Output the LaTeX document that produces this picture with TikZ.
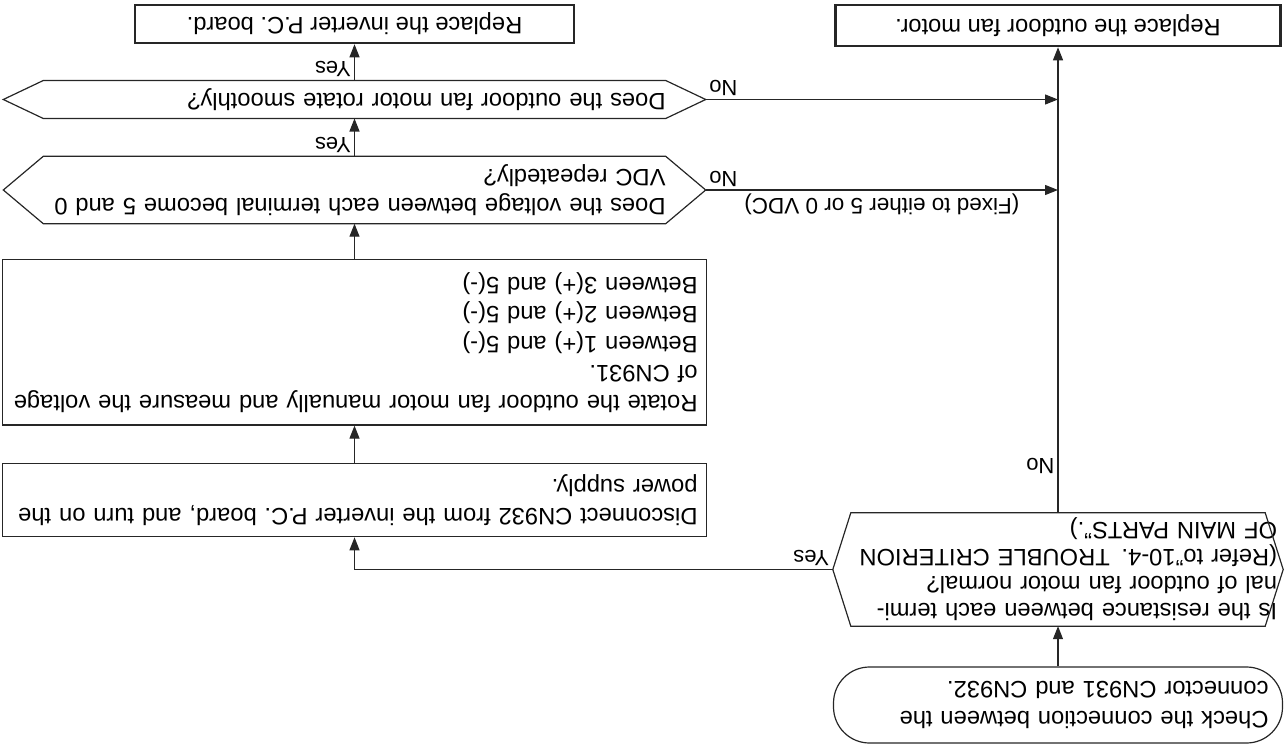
\documentclass[tikz,border=0pt]{standalone}
\usepackage{fontspec}
\setmainfont{Liberation Sans}
\usetikzlibrary{arrows.meta,positioning,calc}

\begin{document}
\begin{tikzpicture}[x=1pt,y=1pt,rotate=180,transform shape,
  font=\fontsize{23.7}{29.5}\selectfont,
  arr/.style={-{Triangle[length=13pt,width=10pt]},line width=1.2pt,draw=black!85},
  box/.style={draw=black!85,line width=1.2pt,text width=686pt,inner xsep=9pt,inner ysep=0pt,align=left},
  dec/.style={inner ysep=0pt,align=left},
  term/.style={draw=black!85,line width=1.2pt,rounded corners=36pt,inner xsep=14pt,inner ysep=0pt,align=left},
  endbox/.style={draw=black!85,line width=2.6pt,inner sep=0pt},
  lbl/.style={font=\fontsize{22}{26}\selectfont,inner sep=3pt}]
\useasboundingbox (0,0) rectangle (-1287,744);
% left column
\node[term,text width=421pt,minimum height=76pt] (start) at (-1058,705) {Check the connection between the\\connector CN931 and CN932.};
\node[dec,text width=438pt,inner xsep=6pt,minimum height=113pt,font=\fontsize{23.7}{27}\selectfont] (d1) at (-1058,569.5) {Is the resistance between each termi-\\nal of outdoor fan motor normal?\\(Refer to"10-4. TROUBLE CRITERION\\OF MAIN PARTS".)};
\node[endbox,minimum width=445pt,minimum height=41pt] (mot) at (-1058,25.5) {Replace the outdoor fan motor.};
% right column
\node[box,minimum height=73.4pt] (dis) at (-354.5,500) {Disconnect CN932 from the inverter P.C. board, and turn on the\\power supply.};
\node[box,minimum height=165.7pt] (rot) at (-354.5,342.2) {Rotate the outdoor fan motor manually and measure the voltage\\of CN931.\\Between 1(+) and 5(-)\\Between 2(+) and 5(-)\\Between 3(+) and 5(-)};
\node[dec,text width=622pt,inner xsep=40pt,minimum height=67pt] (d2) at (-354.5,190) {Does the voltage between each terminal become 5 and 0\\VDC repeatedly?};
\node[dec,text width=622pt,inner xsep=40pt,minimum height=37.6pt] (d3) at (-354.5,99.5) {Does the outdoor fan motor rotate smoothly?};
\node[endbox,minimum width=439pt,minimum height=38pt] (inv) at (-354.5,24) {Replace the inverter P.C. board.};
% hexagons
\foreach \n/\k in {d1/18pt,d2/40pt,d3/40pt}
  \draw[line width=1.2pt,draw=black!85] (\n.west) -- ($(\n.north west)!\k!(\n.north east)$) -- ($(\n.north east)!\k!(\n.north west)$)
    -- (\n.east) -- ($(\n.south east)!\k!(\n.south west)$) -- ($(\n.south west)!\k!(\n.south east)$) -- cycle;
% connectors
\draw[arr] (start) -- (d1);
\draw[arr] (d1.south) -- node[lbl,pos=0.1,right]{No} (mot.north);
\draw[arr] (d1.east) node[lbl,anchor=north west]{Yes} -- (d1.east -| dis.north) -- (dis.north);
\draw[arr] (dis) -- (rot);
\draw[arr] (rot) -- (d2);
\draw[arr] (d2.south) node[lbl,anchor=north west]{Yes} -- (d3.north);
\draw[arr] (d3.south) node[lbl,anchor=north west]{Yes} -- (inv.north);
\draw[arr] (d2.west) node[lbl,anchor=north east]{No} -- node[lbl,above,font=\fontsize{22.5}{27}\selectfont]{(Fixed to either 5 or 0 VDC)} (d2.west -| d1.south);
\draw[arr] (d3.west) node[lbl,anchor=north east]{No} -- (d3.west -| d1.south);
\end{tikzpicture}
\end{document}
